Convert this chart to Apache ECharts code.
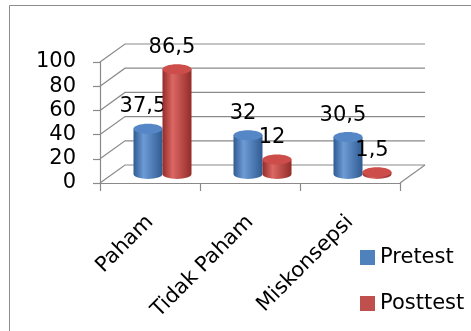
<!DOCTYPE html>
<html>
<head>
<meta charset="utf-8">
<script src="https://cdn.jsdelivr.net/npm/echarts@6/dist/echarts.min.js"></script>
<style>
  html, body { margin: 0; padding: 0; background: #fff; }
  #chart { width: 471px; height: 331px; }
</style>
</head>
<body>
<div id="chart"></div>
<script>
const categories = ['Paham', 'Tidak Paham', 'Miskonsepsi'];
const pretest = [37.5, 32, 30.5];
const posttest = [86.5, 12, 1.5];
const yTicks = [0, 20, 40, 60, 80, 100];

// 3D look: depth of the floor in pixels, bars stand at half depth
const DEPTH_X = 25;
const DEPTH_Y = -18;
const BAR_W = 0.29;
const FONT = '"DejaVu Sans", sans-serif';
const GRID_COLOR = '#8a8a8a';

const fmt = v => String(v).replace('.', ',');

const chart = echarts.init(document.getElementById('chart'));

function cylinder(offset, side, mid, topFill) {
  return function (params, api) {
    const i = api.value(0);
    const v = api.value(1);
    const cx = i + 0.5 + offset;
    const base = api.coord([cx, 0]);
    const top = api.coord([cx, v]);
    const rx = api.size([BAR_W, 0])[0] / 2;
    const ry = 5;
    const x = base[0] + DEPTH_X / 2;
    const yb = base[1] + DEPTH_Y / 2;
    const yt = top[1] + DEPTH_Y / 2;
    const grad = new echarts.graphic.LinearGradient(0, 0, 1, 0, [
      { offset: 0, color: side },
      { offset: 0.35, color: mid },
      { offset: 1, color: side }
    ]);
    return {
      type: 'group',
      children: [
        {
          type: 'path',
          shape: {
            pathData: `M${x - rx},${yt} L${x - rx},${yb} A${rx},${ry} 0 0 0 ${x + rx},${yb} L${x + rx},${yt} Z`
          },
          style: { fill: grad }
        },
        {
          type: 'ellipse',
          shape: { cx: x, cy: yt, rx: rx, ry: ry },
          style: { fill: topFill }
        },
        {
          type: 'text',
          style: {
            text: fmt(v),
            x: x - 5,
            y: yt - 22,
            align: 'center',
            verticalAlign: 'middle',
            fontSize: 21,
            fontFamily: FONT,
            fill: '#000'
          }
        }
      ]
    };
  };
}

const option = {
  animation: false,
  backgroundColor: '#fff',
  graphic: [
    {
      type: 'rect',
      silent: true,
      shape: { x: 9.5, y: 5.5, width: 520, height: 400 },
      style: { fill: 'none', stroke: '#8c8c8c', lineWidth: 1 }
    }
  ],
  grid: { left: 100, top: 62, width: 300, height: 121 },
  legend: {
    data: ['Pretest', 'Posttest'],
    orient: 'vertical',
    left: 355,
    top: 242,
    icon: 'rect',
    itemWidth: 15,
    itemHeight: 15,
    itemGap: 25,
    itemStyle: { borderWidth: 0 },
    textStyle: { fontSize: 21, fontFamily: FONT, color: '#000' }
  },
  xAxis: [
    {
      type: 'category',
      data: categories,
      boundaryGap: true,
      axisLine: { lineStyle: { color: GRID_COLOR, width: 1.2 } },
      axisTick: { show: true, length: 8, interval: 0, lineStyle: { color: GRID_COLOR, width: 1.2 } },
      axisLabel: {
        rotate: 45,
        interval: 0,
        margin: 36,
        fontSize: 21,
        fontFamily: FONT,
        color: '#000'
      }
    },
    { type: 'value', min: 0, max: 3, show: false }
  ],
  yAxis: {
    type: 'value',
    min: 0,
    max: 100,
    interval: 20,
    axisLine: { show: true, lineStyle: { color: GRID_COLOR, width: 1.2 } },
    axisTick: { show: true, length: 7, lineStyle: { color: GRID_COLOR, width: 1.2 } },
    splitLine: { show: false },
    axisLabel: { margin: 24, fontSize: 21, fontFamily: FONT, color: '#000' }
  },
  series: [
    {
      name: 'walls',
      type: 'custom',
      xAxisIndex: 1,
      silent: true,
      z: 1,
      data: yTicks.map(v => [v]),
      renderItem: function (params, api) {
        const v = api.value(0);
        const a = api.coord([0, v]);
        const b = api.coord([3, v]);
        const children = [{
          type: 'polyline',
          shape: { points: [a, [a[0] + DEPTH_X, a[1] + DEPTH_Y], [b[0] + DEPTH_X, b[1] + DEPTH_Y]] },
          style: { stroke: GRID_COLOR, lineWidth: 1.2, fill: 'none' }
        }];
        if (v === 0) {
          children.push({
            type: 'line',
            shape: { x1: b[0], y1: b[1], x2: b[0] + DEPTH_X, y2: b[1] + DEPTH_Y },
            style: { stroke: GRID_COLOR, lineWidth: 1.2 }
          });
        }
        return { type: 'group', children: children };
      }
    },
    {
      name: 'Pretest',
      type: 'custom',
      xAxisIndex: 1,
      z: 3,
      itemStyle: { color: '#4f81bd' },
      data: pretest.map((v, i) => [i, v]),
      encode: { x: 0, y: 1 },
      renderItem: cylinder(-BAR_W / 2, '#2f5b91', '#6d9bd6', '#5587c6')
    },
    {
      name: 'Posttest',
      type: 'custom',
      xAxisIndex: 1,
      z: 3,
      itemStyle: { color: '#c0504d' },
      data: posttest.map((v, i) => [i, v]),
      encode: { x: 0, y: 1 },
      renderItem: cylinder(BAR_W / 2, '#932c29', '#dc6763', '#cc4d49')
    }
  ]
};

chart.setOption(option);
</script>
</body>
</html>
